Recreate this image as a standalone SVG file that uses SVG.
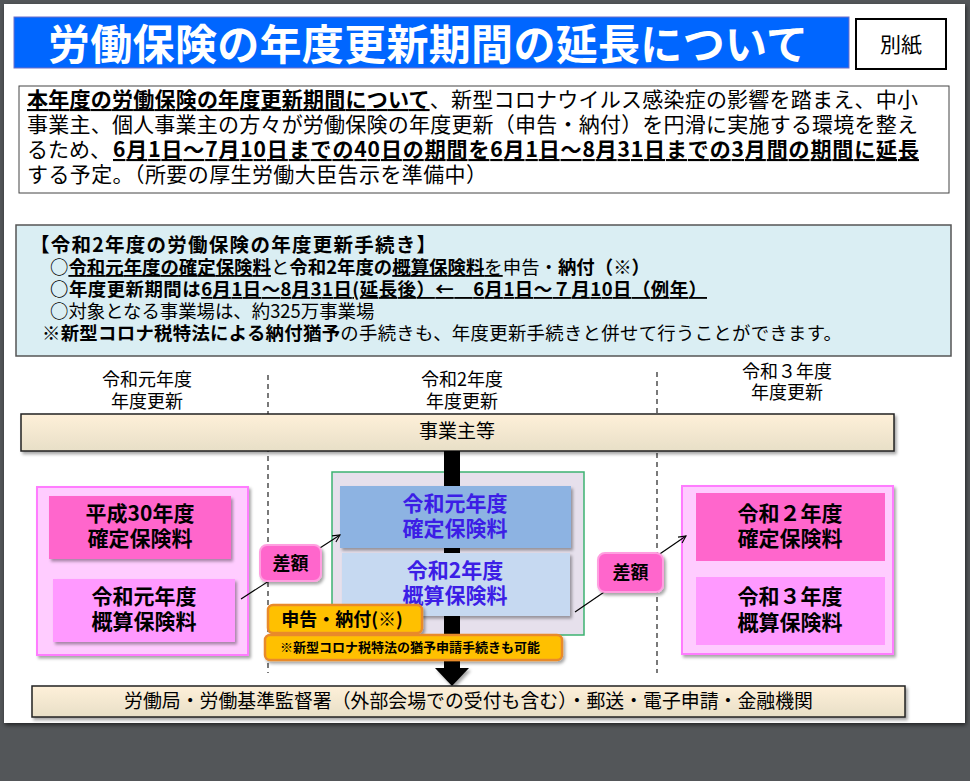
<svg xmlns="http://www.w3.org/2000/svg" width="970" height="781" viewBox="0 0 970 781">
<defs>
<style>
text{font-family:"Noto Sans CJK JP","Noto Sans CJK SC",sans-serif;fill:#000}
.b{font-weight:700}
.u{text-decoration:underline}
.ph{font-size:21px}
.bx{font-size:18.4px}
.hd{font-size:18px;text-anchor:middle}
.nd{font-size:21px;font-weight:700;text-anchor:middle}
.nb{fill:#3C1EE6}
.bar{fill:url(#barg);stroke:#222;stroke-width:1.5}
.pk-out{fill:#FFCCFF;stroke:#FF7BFF;stroke-width:2}
.pk1{fill:#FF66CC}
.pk2{fill:#FF99FF}
.sa{fill:#FF66CC;stroke:#FF9FE0;stroke-width:2}
.or{fill:#FFC000;stroke:#E98A2A;stroke-width:2.5}
.dash{stroke:#333;stroke-width:1.3;stroke-dasharray:5 4;fill:none}
.con{stroke:#000;stroke-width:1.2;fill:none}
</style>
<linearGradient id="barg" x1="0" y1="0" x2="0" y2="1">
<stop offset="0" stop-color="#FEF0D9"/>
<stop offset="1" stop-color="#E8DFC7"/>
</linearGradient>
<filter id="sh" x="-10%" y="-20%" width="120%" height="150%">
<feDropShadow dx="2" dy="2.5" stdDeviation="1.5" flood-color="#000" flood-opacity="0.35"/>
</filter>
<filter id="psh" x="-5%" y="-5%" width="110%" height="110%">
<feDropShadow dx="1" dy="2" stdDeviation="2" flood-color="#000" flood-opacity="0.6"/>
</filter>
<marker id="arr" viewBox="0 0 10 10" refX="9" refY="5" markerWidth="9" markerHeight="9" orient="auto" markerUnits="userSpaceOnUse">
<path d="M1,1 L9,5 L1,9" fill="none" stroke="#000" stroke-width="1.2"/>
</marker>
</defs>

<rect x="0" y="0" width="970" height="781" fill="#535659"/>
<rect x="4" y="4" width="961" height="719" fill="#fff" filter="url(#psh)"/>

<g id="title">
<rect x="14" y="17" width="835" height="51" fill="#0066FF" stroke="#6F6FC8" stroke-width="1"/>
<text x="48" y="60" class="b" style="font-size:42px;fill:#fff" textLength="760">労働保険の年度更新期間の延長について</text>
</g>
<g id="annex">
<rect x="856" y="19" width="90" height="50" fill="#fff" stroke="#000" stroke-width="2"/>
<text x="901" y="52" style="font-size:21px;text-anchor:middle">別紙</text>
</g>

<g id="summary">
<rect x="19" y="86" width="930" height="107" fill="#fff" stroke="#444" stroke-width="1"/>
<text x="27" y="107" class="ph" textLength="891"><tspan class="b u">本年度の労働保険の年度更新期間について</tspan>、新型コロナウイルス感染症の影響を踏まえ、中小</text>
<text x="27" y="132" class="ph" textLength="891">事業主、個人事業主の方々が労働保険の年度更新（申告・納付）を円滑に実施する環境を整え</text>
<text x="27" y="157" class="ph">るため、</text>
<text x="113" y="157" class="ph b u" textLength="806">6月1日～7月10日までの40日の期間を6月1日～8月31日までの3月間の期間に延長</text>
<text x="27" y="182" class="ph" textLength="460">する予定。（所要の厚生労働大臣告示を準備中）</text>
</g>

<g id="procedure">
<rect x="16" y="225" width="935" height="131" fill="#DAEEF3" stroke="#555" stroke-width="1.5"/>
<text x="30" y="252" class="b" style="font-size:19.5px" textLength="406">【令和2年度の労働保険の年度更新手続き】</text>
<text x="50" y="274" class="bx" textLength="600">○<tspan class="b u">令和元年度の確定保険料</tspan>と<tspan class="b">令和2年度の</tspan><tspan class="b u">概算保険料</tspan><tspan class="u">を</tspan>申告・<tspan class="b">納付（※）</tspan></text>
<text x="50" y="296" class="bx b" textLength="657">○年度更新期間は<tspan class="u">6月1日～8月31日(延長後）←　6月1日～７月10日（例年）</tspan></text>
<text x="50" y="318" class="bx">○対象となる事業場は、約325万事業場</text>
<text x="42" y="340" class="bx" textLength="800"><tspan class="b">※新型コロナ税特法による納付猶予</tspan>の手続きも、年度更新手続きと併せて行うことができます。</text>
</g>

<g id="headers">
<text x="147" y="386" class="hd">令和元年度</text>
<text x="147" y="408" class="hd">年度更新</text>
<text x="462" y="386" class="hd">令和2年度</text>
<text x="462" y="408" class="hd">年度更新</text>
<text x="787" y="378" class="hd">令和３年度</text>
<text x="787" y="399" class="hd">年度更新</text>
</g>

<g id="dividers">
<line x1="268" y1="375" x2="268" y2="673" class="dash"/>
<line x1="657" y1="372" x2="657" y2="673" class="dash"/>
</g>

<g id="employer">
<rect x="21" y="414" width="873" height="37" class="bar" filter="url(#sh)"/>
<text x="457" y="438" style="font-size:19px;text-anchor:middle">事業主等</text>
</g>

<g id="r2-group">
<rect x="332" y="472" width="252" height="163" fill="#E6E0EC" stroke="#3CB371" stroke-width="1.5"/>
</g>

<g id="flow-arrow">
<rect x="444" y="451" width="16" height="218" fill="#000"/>
<polygon points="435,668 469,668 452,686" fill="#000" filter="url(#sh)"/>
</g>

<g id="r2-kakutei">
<rect x="340" y="486" width="231" height="62" fill="#8DB3E2" filter="url(#sh)"/>
<text x="455" y="511" class="nd nb">令和元年度</text>
<text x="455" y="536" class="nd nb">確定保険料</text>
</g>
<g id="r2-gaisan">
<rect x="342" y="553" width="228" height="63" fill="#C6D9F1" filter="url(#sh)"/>
<text x="455" y="578" class="nd nb">令和2年度</text>
<text x="455" y="603" class="nd nb">概算保険料</text>
</g>

<g id="r1-group">
<rect x="37" y="487" width="211" height="168" class="pk-out" filter="url(#sh)"/>
</g>
<g id="h30-kakutei">
<rect x="49" y="496" width="182" height="63" class="pk1" filter="url(#sh)"/>
<text x="140" y="521" class="nd">平成30年度</text>
<text x="140" y="546" class="nd">確定保険料</text>
</g>
<g id="r1-gaisan">
<rect x="53" y="579" width="182" height="63" class="pk2" filter="url(#sh)"/>
<text x="144" y="604" class="nd">令和元年度</text>
<text x="144" y="629" class="nd">概算保険料</text>
</g>

<g id="r3-group">
<rect x="682" y="486" width="211" height="168" class="pk-out" filter="url(#sh)"/>
</g>
<g id="r2-kakutei-next">
<rect x="696" y="493" width="189" height="68" class="pk1"/>
<text x="790" y="521" class="nd">令和２年度</text>
<text x="790" y="546" class="nd">確定保険料</text>
</g>
<g id="r3-gaisan">
<rect x="696" y="577" width="189" height="68" class="pk2"/>
<text x="790" y="604" class="nd">令和３年度</text>
<text x="790" y="630" class="nd">概算保険料</text>
</g>

<g id="connectors">
<line x1="241" y1="599" x2="340" y2="535" class="con" marker-end="url(#arr)"/>
<line x1="575" y1="612" x2="686" y2="536" class="con" marker-end="url(#arr)"/>
</g>

<g id="diff-left">
<rect x="260" y="545" width="61" height="36" rx="7" class="sa" filter="url(#sh)"/>
<text x="290.5" y="569.5" class="b" style="font-size:18px;text-anchor:middle">差額</text>
</g>
<g id="diff-right">
<rect x="598" y="553" width="65" height="39" rx="7" class="sa" filter="url(#sh)"/>
<text x="630.5" y="578.5" class="b" style="font-size:18px;text-anchor:middle">差額</text>
</g>

<g id="filing">
<rect x="268" y="605" width="154" height="28" rx="5" class="or" filter="url(#sh)"/>
<text x="342" y="626" class="b" style="font-size:18px;text-anchor:middle">申告・納付(※)</text>
</g>
<g id="deferral-note">
<rect x="265" y="635" width="297" height="25" rx="5" class="or" filter="url(#sh)"/>
<text x="410" y="652" class="b" style="font-size:13px;text-anchor:middle">※新型コロナ税特法の猶予申請手続きも可能</text>
</g>

<g id="offices">
<rect x="32" y="686" width="873" height="31" class="bar" filter="url(#sh)"/>
<text x="124" y="707.5" style="font-size:19.5px" textLength="689" lengthAdjust="spacingAndGlyphs">労働局・労働基準監督署（外部会場での受付も含む）・郵送・電子申請・金融機関</text>
</g>
</svg>
